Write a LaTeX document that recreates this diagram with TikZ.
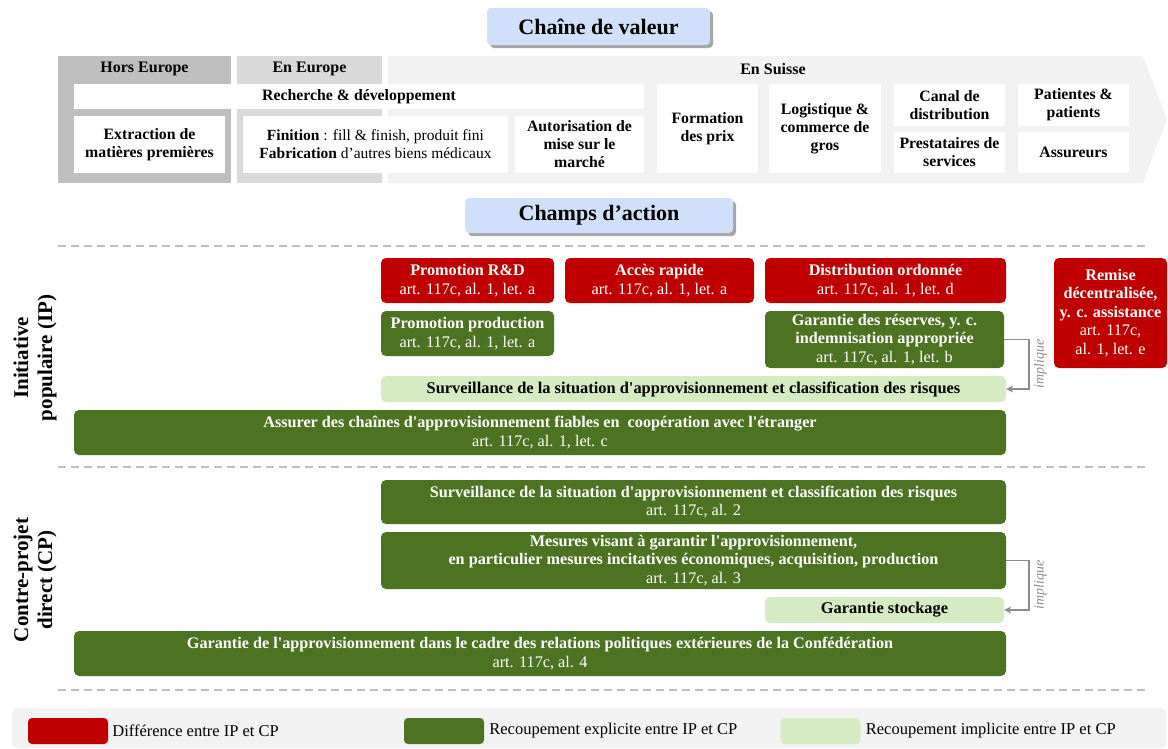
\documentclass[tikz,border=0pt]{standalone}
\usepackage{fontspec}
\setmainfont{Liberation Serif}[Ligatures=TeXOff]
\usetikzlibrary{positioning,shadows,arrows.meta}
\definecolor{diffred}{HTML}{C00000}
\definecolor{overlapgreen}{HTML}{4B7321}
\definecolor{implicitgreen}{HTML}{D5EBC1}
\definecolor{headblue}{HTML}{D0E0FA}
\definecolor{horsgray}{HTML}{BFBFBF}
\definecolor{europegray}{HTML}{D9D9D9}
\definecolor{suissegray}{HTML}{F2F2F2}
\definecolor{arrowgray}{HTML}{8C8C8C}

\begin{document}
\begin{tikzpicture}
  [ x=1pt, y=-1pt, inner sep=0pt, align=center,
    headbox/.style={fill=headblue, rounded corners=4pt, font=\bfseries\fontsize{22}{26}\selectfont,
      drop shadow={shadow xshift=3pt, shadow yshift=-3pt, fill=black!50, opacity=0.7}},
    zone/.style={font=\bfseries\fontsize{16}{18}\selectfont},
    chainbox/.style={fill=white, font=\bfseries\fontsize{15.8}{18}\selectfont},
    actionbox/.style={rounded corners=5pt, font=\fontsize{16.2}{18.5}\selectfont},
    diffbox/.style={actionbox, fill=diffred, text=white},
    explicitbox/.style={actionbox, fill=overlapgreen, text=white},
    implicitbox/.style={actionbox, fill=implicitgreen, font=\bfseries\fontsize{16.4}{18.5}\selectfont},
    sidelabel/.style={rotate=90, font=\bfseries\fontsize{21}{24}\selectfont},
    divider/.style={draw=horsgray, line width=1.5pt, dash pattern=on 8pt off 5pt},
    implies/.style={draw=arrowgray, line width=1.5pt, -{Stealth[length=7pt,width=7pt]}},
    impl/.style={rotate=90, anchor=north, inner sep=4pt, text=arrowgray, font=\itshape\fontsize{14}{16}\selectfont},
    swatch/.style={rounded corners=4pt, minimum width=80pt, minimum height=26pt},
    legendtext/.style={font=\fontsize{16.5}{18}\selectfont}]
  \useasboundingbox (0,0) rectangle (1168,748);

  \node [name=chaine, headbox, minimum width=223pt, minimum height=37pt] at (598.5,26.5) {Chaîne de valeur};

  \fill [horsgray] (58,56) rectangle (231,183);
  \fill [europegray] (237,56) rectangle (382,183);
  \fill [suissegray] (388,56) -- (1143,56) -- (1167,119.5) -- (1143,183) -- (388,183) -- cycle;
  \node [name=hors, zone] at (144.5,69) {Hors Europe};
  \node [name=europe, zone] at (309.5,69) {En Europe};
  \node [name=suisse, zone] at (773,69) {En Suisse};

  \node [name=rd, chainbox, minimum width=570pt, minimum height=25pt] at (359,96.5) {Recherche \& développement};
  \node [name=extraction, chainbox, minimum width=151pt, minimum height=57pt] at (149.5,144.5) {Extraction de\\matières premières};
  \node [name=finition, chainbox, font=\fontsize{15.5}{18}\selectfont, minimum width=265pt, minimum height=57pt] at (375.5,144.5)
    {\textbf{Finition} : fill \& finish, produit fini\\\textbf{Fabrication} d’autres biens médicaux};
  \node [name=autorisation, chainbox, minimum width=129pt, minimum height=57pt] at (579.5,144.5) {Autorisation de\\mise sur le\\marché};
  \node [name=prix, chainbox, minimum width=101pt, minimum height=89pt] at (707.5,128.5) {Formation\\des prix};
  \node [name=logistique, chainbox, minimum width=112pt, minimum height=89pt] at (825,128.5) {Logistique \&\\commerce de\\gros};
  \node [name=canal, chainbox, minimum width=111pt, minimum height=42pt] at (949.5,105) {Canal de\\distribution};
  \node [name=prestataires, chainbox, minimum width=111pt, minimum height=41pt] at (949.5,152.5) {Prestataires de\\services};
  \node [name=patients, chainbox, minimum width=111pt, minimum height=42pt] at (1073.5,105) {Patientes \&\\patients};
  \node [name=assureurs, chainbox, minimum width=111pt, minimum height=41pt] at (1073.5,152.5) {Assureurs};

  \node [name=champs, headbox, minimum width=268pt, minimum height=35pt] at (599,215.5) {Champs d’action};

  \draw [divider] (58,246) -- (1148,246);
  \draw [divider] (58,467) -- (1148,467);
  \draw [divider] (58,690) -- (1148,690);

  \node [name=ip, sidelabel] at (35,358) {Initiative\\populaire (IP)};
  \node [name=rdpromo, diffbox, minimum width=173pt, minimum height=45pt] at (467.5,280.5) {\textbf{Promotion R\&D}\\art. 117c, al. 1, let. a};
  \node [name=acces, diffbox, minimum width=189pt, minimum height=45pt] at (659.5,280.5) {\textbf{Accès rapide}\\art. 117c, al. 1, let. a};
  \node [name=distribution, diffbox, minimum width=241pt, minimum height=45pt] at (885.5,280.5) {\textbf{Distribution ordonnée}\\art. 117c, al. 1, let. d};
  \node [name=remise, diffbox, minimum width=113pt, minimum height=110pt] at (1110.5,313)
    {\textbf{Remise}\\\textbf{décentralisée,}\\\textbf{y. c. assistance}\\art. 117c,\\al. 1, let. e};
  \node [name=production, explicitbox, minimum width=173pt, minimum height=45pt] at (467.5,333.5) {\textbf{Promotion production}\\art. 117c, al. 1, let. a};
  \node [name=reserves, explicitbox, minimum width=239pt, minimum height=57pt] at (884.5,339.5)
    {\textbf{Garantie des réserves, y. c.}\\\textbf{indemnisation appropriée}\\art. 117c, al. 1, let. b};
  \node [name=survip, implicitbox, minimum width=625pt, minimum height=26pt] at (693.5,389)
    {Surveillance de la situation d'approvisionnement et classification des risques};
  \node [name=chainesip, explicitbox, minimum width=932pt, minimum height=45pt] at (540,432.5)
    {\textbf{Assurer des chaînes d'approvisionnement fiables en\ \ coopération avec l'étranger}\\art. 117c, al. 1, let. c};
  \draw [implies] (reserves.east) -- ++(25,0) |- node [pos=0.25, name=impl1, impl] {implique} (survip.east);

  \node [name=cp, sidelabel] at (35,580) {Contre-projet\\direct (CP)};
  \node [name=survcp, explicitbox, minimum width=625pt, minimum height=44pt] at (693.5,502)
    {\textbf{Surveillance de la situation d'approvisionnement et classification des risques}\\art. 117c, al. 2};
  \node [name=mesures, explicitbox, minimum width=625pt, minimum height=57pt] at (693.5,560.5)
    {\textbf{Mesures visant à garantir l'approvisionnement,}\\\textbf{en particulier mesures incitatives économiques, acquisition, production}\\art. 117c, al. 3};
  \node [name=stockage, implicitbox, minimum width=239pt, minimum height=26pt] at (884.5,610) {Garantie stockage};
  \node [name=relations, explicitbox, minimum width=932pt, minimum height=45pt] at (540,653.5)
    {\textbf{Garantie de l'approvisionnement dans le cadre des relations politiques extérieures de la Confédération}\\art. 117c, al. 4};
  \draw [implies] (mesures.east) -- ++(23,0) |- node [pos=0.25, name=impl2, impl] {implique} (stockage.east);

  \fill [suissegray, rounded corners=6pt] (12,708) rectangle (1166,748);
  \node [name=swdiff, swatch, fill=diffred] at (68,731) {};
  \node [name=swexplicit, swatch, fill=overlapgreen] at (444,731) {};
  \node [name=swimplicit, swatch, fill=implicitgreen] at (820.5,731) {};
  \node [name=txtdiff, legendtext, right=4pt of swdiff] {Différence entre IP et CP};
  \node [name=txtexplicit, legendtext, right=5pt of swexplicit] {Recoupement explicite entre IP et CP};
  \node [name=txtimplicit, legendtext, right=5pt of swimplicit] {Recoupement implicite entre IP et CP};
\end{tikzpicture}
\end{document}
